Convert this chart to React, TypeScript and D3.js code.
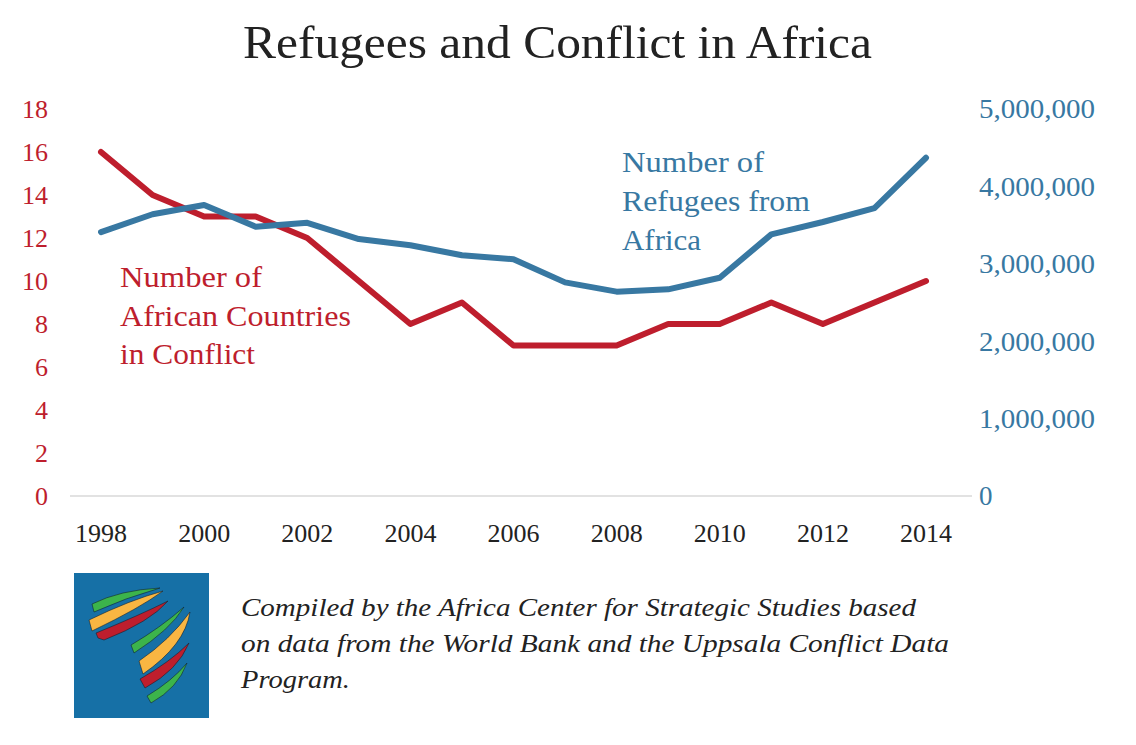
import React from 'react'
import * as d3 from 'd3'

// data
const years = [1998, 1999, 2000, 2001, 2002, 2003, 2004, 2005, 2006, 2007, 2008, 2009, 2010, 2011, 2012, 2013, 2014]
const countriesInConflict = [16, 14, 13, 13, 12, 10, 8, 9, 7, 7, 7, 8, 8, 9, 8, 9, 10]
const refugees = [
    3410000, 3640000, 3760000, 3480000, 3530000, 3320000, 3240000, 3110000, 3060000,
    2760000, 2640000, 2670000, 2820000, 3380000, 3540000, 3720000, 4370000,
]
const leftTicks = [0, 2, 4, 6, 8, 10, 12, 14, 16, 18]
const rightTicks = [0, 1000000, 2000000, 3000000, 4000000, 5000000]
const xTicks = [1998, 2000, 2002, 2004, 2006, 2008, 2010, 2012, 2014]

const RED = '#be1e2d'
const BLUE = '#3878a2'
const FONT = '"Liberation Serif", "DejaVu Serif", serif'

const W = 1136
const H = 745

const App: React.FC = () => {
    const x = d3.scaleLinear().domain([1998, 2014]).range([101, 926])
    const yL = d3.scaleLinear().domain([0, 18]).range([496, 109])
    const yR = d3.scaleLinear().domain([0, 5000000]).range([496, 109])

    const redLine = d3
        .line<number>()
        .x((_, i) => x(years[i]))
        .y((d) => yL(d))
    const blueLine = d3
        .line<number>()
        .x((_, i) => x(years[i]))
        .y((d) => yR(d))

    const fmt = d3.format(',')

    // logo stripes (decorative)
    const stripes = [
        { c: '#3cb44b', d: 'M92,604 Q120,590 160,588 Q125,598 94,612 Z' },
        { c: '#f9b642', d: 'M89,620 Q130,600 163,591 Q140,608 92,631 Z' },
        { c: RED, d: 'M96,633 Q140,615 168,601 Q150,622 104,640 L98,638 Z' },
        { c: '#3cb44b', d: 'M131,645 Q160,628 184,607 Q170,630 134,653 Z' },
        { c: '#f9b642', d: 'M139,661 Q170,640 190,612 Q185,645 143,674 Z' },
        { c: RED, d: 'M140,679 Q170,662 189,643 Q178,670 145,688 Z' },
        { c: '#3cb44b', d: 'M147,696 Q172,681 187,663 Q178,688 151,703 Z' },
    ]

    return (
        <svg width={W} height={H} style={{ display: 'block', position: 'absolute', left: 0, top: 0 }}>
            <rect width={W} height={H} fill="#fff" />
            <text x={243} y={58} fontFamily={FONT} fontSize={47} fill="#222" textLength={629} lengthAdjust="spacingAndGlyphs">
                Refugees and Conflict in Africa
            </text>

            {/* baseline */}
            <line x1={70} x2={972} y1={496} y2={496} stroke="#d9d9d9" strokeWidth={1.5} />

            {/* left axis */}
            {leftTicks.map((t) => (
                <text key={t} x={48} y={yL(t)} dy="0.35em" textAnchor="end" fontFamily={FONT} fontSize={26} fill={RED}>
                    {t}
                </text>
            ))}

            {/* right axis */}
            {rightTicks.map((t) => (
                <text
                    key={t}
                    x={979}
                    y={yR(t)}
                    dy="0.35em"
                    textAnchor="start"
                    fontFamily={FONT}
                    fontSize={27}
                    fill={BLUE}
                    textLength={t === 0 ? undefined : 116}
                    lengthAdjust="spacingAndGlyphs"
                >
                    {fmt(t)}
                </text>
            ))}

            {/* x axis */}
            {xTicks.map((t) => (
                <text key={t} x={x(t)} y={533} dy="0.35em" textAnchor="middle" fontFamily={FONT} fontSize={26} fill="#222">
                    {t}
                </text>
            ))}

            <path d={redLine(countriesInConflict) ?? ''} fill="none" stroke={RED} strokeWidth={6} strokeLinecap="round" strokeLinejoin="round" />
            <path d={blueLine(refugees) ?? ''} fill="none" stroke={BLUE} strokeWidth={6} strokeLinecap="round" strokeLinejoin="round" />

            {/* series labels */}
            <g fontFamily={FONT} fontSize={29} fill={RED}>
                <text x={120} y={287} textLength={142} lengthAdjust="spacingAndGlyphs">Number of</text>
                <text x={120} y={326} textLength={231} lengthAdjust="spacingAndGlyphs">African Countries</text>
                <text x={120} y={364} textLength={135} lengthAdjust="spacingAndGlyphs">in Conflict</text>
            </g>
            <g fontFamily={FONT} fontSize={29} fill={BLUE}>
                <text x={622} y={172} textLength={142} lengthAdjust="spacingAndGlyphs">Number of</text>
                <text x={622} y={211} textLength={188} lengthAdjust="spacingAndGlyphs">Refugees from</text>
                <text x={622} y={250} textLength={79} lengthAdjust="spacingAndGlyphs">Africa</text>
            </g>

            {/* logo */}
            <rect x={74} y={573} width={135} height={145} fill="#1670a6" />
            {stripes.map((s, i) => (
                <path key={i} d={s.d} fill={s.c} stroke="#123" strokeWidth={0.6} />
            ))}

            {/* source note */}
            <g fontFamily={FONT} fontStyle="italic" fontSize={26} fill="#222">
                <text x={241} y={616} textLength={675} lengthAdjust="spacingAndGlyphs">
                    Compiled by the Africa Center for Strategic Studies based
                </text>
                <text x={241} y={652} textLength={708} lengthAdjust="spacingAndGlyphs">
                    on data from the World Bank and the Uppsala Conflict Data
                </text>
                <text x={241} y={688} textLength={109} lengthAdjust="spacingAndGlyphs">
                    Program.
                </text>
            </g>
        </svg>
    )
}

export default App
